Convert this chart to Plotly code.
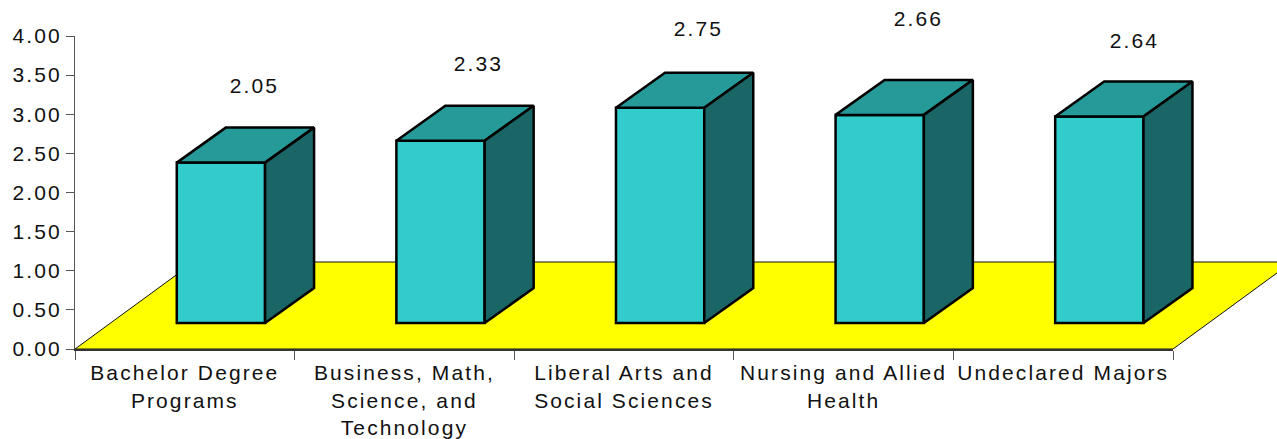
import plotly.graph_objects as go

categories = ["Bachelor Degree<br>Programs",
              "Business, Math,<br>Science, and<br>Technology",
              "Liberal Arts and<br>Social Sciences",
              "Nursing and Allied<br>Health",
              "Undeclared Majors"]
values = [2.05, 2.33, 2.75, 2.66, 2.64]
value_labels = ["2.05", "2.33", "2.75", "2.66", "2.64"]
y_ticks = [0, 0.5, 1, 1.5, 2, 2.5, 3, 3.5, 4]
label_shift_x = [34, 38, 38, 39, 35]
label_shift_y = [77, 77, 79, 96, 76]

W, H = 1277, 439
L, T, B = 75, 36, 90
AXIS_W = 1098
CAT_PX = AXIS_W / 5
FONT = dict(family="Liberation Sans, Arial, sans-serif", size=21, color="#111111")

# 3D projection in axis units
bar_pos, bar_w = 0.6645, 0.402
base = 0.332
dx, dy = 49 / CAT_PX, 35 / 78.25
floor_dx, floor_dy = 119 / CAT_PX, 87 / 78.25

FRONT, TOP, SIDE = "#33CCCC", "#269999", "#1A6666"

fig = go.Figure()

centers = [i + bar_pos for i in range(len(values))]
fig.add_trace(go.Bar(x=centers, y=values, base=base, width=bar_w, xaxis="x", yaxis="y",
                     marker=dict(color=FRONT, line=dict(color="black", width=2.5)),
                     showlegend=False, hoverinfo="skip"))

for c, v in zip(centers, values):
    l, r = c - bar_w / 2, c + bar_w / 2
    b, t = base, base + v
    fig.add_trace(go.Scatter(
        x=[l, r, r + dx, l + dx, l], y=[t, t, t + dy, t + dy, t], xaxis="x", yaxis="y",
        mode="lines", fill="toself", fillcolor=TOP, line=dict(color="black", width=2.5),
        showlegend=False, hoverinfo="skip"))
    fig.add_trace(go.Scatter(
        x=[r, r + dx, r + dx, r, r], y=[b, b + dy, t + dy, t, b], xaxis="x", yaxis="y",
        mode="lines", fill="toself", fillcolor=SIDE, line=dict(color="black", width=2.5),
        showlegend=False, hoverinfo="skip"))

# invisible carrier trace for the visible category axis
fig.add_trace(go.Scatter(x=[0, 5], y=[0, 0], xaxis="x2", yaxis="y", mode="none",
                         showlegend=False, hoverinfo="skip"))

annotations = [dict(x=c, y=base + v, xref="x", yref="y", text=s, showarrow=False,
                    xshift=sx, yshift=sy, font=FONT, xanchor="center", yanchor="middle")
               for c, v, s, sx, sy in zip(centers, values, value_labels, label_shift_x, label_shift_y)]

floor = (f"M 0 0 L 5 0 L {5 + floor_dx} {floor_dy} L {floor_dx} {floor_dy} Z")

fig.update_layout(
    width=W, height=H, margin=dict(l=L, r=0, t=T, b=B, pad=0),
    paper_bgcolor="white", plot_bgcolor="rgba(0,0,0,0)", showlegend=False, barmode="overlay",
    font=FONT,
    shapes=[dict(type="path", path=floor, xref="x", yref="y", layer="below",
                 fillcolor="#FFFF00", line=dict(color="#111111", width=1))],
    annotations=annotations,
    xaxis=dict(domain=[0, 1], range=[0, (W - L) / CAT_PX], anchor="y",
               visible=False, showgrid=False, zeroline=False, automargin=False),
    xaxis2=dict(domain=[0, AXIS_W / (W - L)], range=[0, 5], anchor="y",
                tickmode="array", tickvals=[i + 0.5 for i in range(5)], ticktext=categories,
                ticks="", tickangle=0, showgrid=False, zeroline=False, automargin=False,
                showline=True, linecolor="#333333", linewidth=2,
                minor=dict(tickmode="array", tickvals=[0, 1, 2, 3, 4, 5], ticks="outside",
                           ticklen=9, tickwidth=1, tickcolor="#555555", showgrid=False),
                ticklabelstandoff=4, tickfont=FONT),
    yaxis=dict(range=[0, 4], tickmode="array", tickvals=y_ticks, automargin=False,
               ticktext=[f"{t:.2f}" for t in y_ticks], ticks="outside", ticklen=8,
               tickwidth=1, tickcolor="#555555", showline=True, linecolor="#555555",
               linewidth=1, showgrid=False, zeroline=False, tickfont=FONT),
)

post = """
var s=document.createElement('style');
s.textContent='body{margin:0}.js-plotly-plot svg text{letter-spacing:2.1px}';
document.head.appendChild(s);
"""
fig.write_html("out.html", post_script=post, config=dict(displayModeBar=False))
